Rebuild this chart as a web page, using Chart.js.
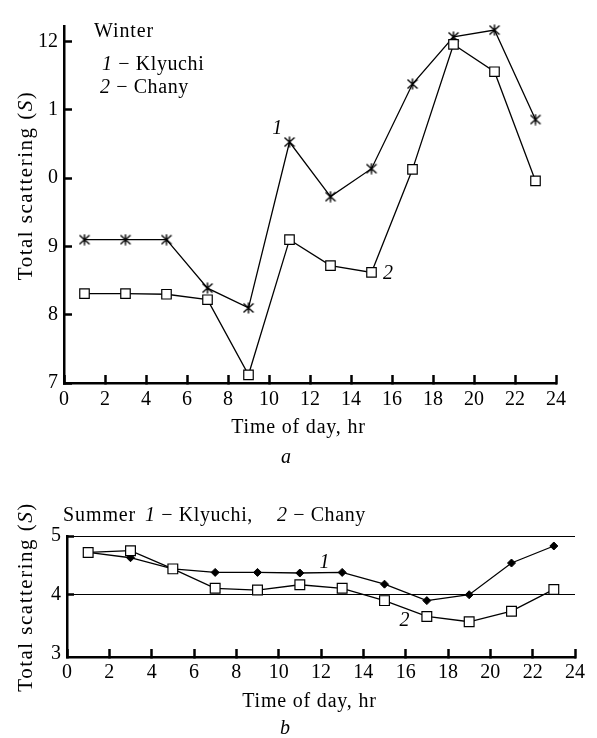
<!DOCTYPE html>
<html>
<head>
<meta charset="utf-8">
<script src="https://cdn.jsdelivr.net/npm/chart.js@4/dist/chart.umd.min.js"></script>
<style>
  body { margin: 0; background: #fff; }
  #wrap { position: relative; width: 597px; height: 738px; }
  #box1 { position: absolute; left: 0; top: 0; width: 597px; height: 480px; }
  #box2 { position: absolute; left: 0; top: 480px; width: 597px; height: 258px; }
</style>
</head>
<body>
<div id="wrap">
  <div id="box1"><canvas id="winter"></canvas></div>
  <div id="box2"><canvas id="summer"></canvas></div>
</div>
<script>
// data
const hours = [1, 3, 5, 7, 9, 11, 13, 15, 17, 19, 21, 23];
const winterKlyuchi = [9.1, 9.1, 9.1, 8.39, 8.1, 10.53, 9.73, 10.14, 11.38, 12.07, 12.17, 10.86];
const winterChany = [8.31, 8.31, 8.3, 8.22, 7.12, 9.1, 8.72, 8.62, 10.13, 11.96, 11.56, 9.96];
const summerKlyuchi = [4.72, 4.63, 4.44, 4.38, 4.38, 4.37, 4.38, 4.18, 3.9, 4.0, 4.54, 4.83];
const summerChany = [4.72, 4.75, 4.44, 4.11, 4.08, 4.17, 4.11, 3.9, 3.63, 3.54, 3.72, 4.09];
const xTicks = [0, 2, 4, 6, 8, 10, 12, 14, 16, 18, 20, 22, 24];
const winterYTicks = [7, 8, 9, 10, 11, 12];
const winterYLabels = ["7", "8", "9", "0", "1", "12"];
const summerYTicks = [3, 4, 5];
const summerYLabels = ["3", "4", "5"];

const FAMILY = '"Liberation Serif", "Times New Roman", serif';

function fnt(italic, size) {
  return (italic ? "italic " : "") + size + "px " + FAMILY;
}

// "ж"-like asterisk marker used for Klyuchi in winter
function asteriskMarker() {
  const c = document.createElement("canvas");
  c.width = 12;
  c.height = 12;
  const g = c.getContext("2d");
  g.strokeStyle = "#000";
  g.lineWidth = 1.4;
  g.beginPath();
  g.moveTo(1, 1.5); g.lineTo(11, 10.5);
  g.moveTo(11, 1.5); g.lineTo(1, 10.5);
  g.moveTo(6, 0.5); g.lineTo(6, 11.5);
  g.stroke();
  return c;
}

function drawRuns(ctx, runs, x, y, opts) {
  opts = opts || {};
  const size = opts.size || 20;
  ctx.save();
  ctx.letterSpacing = (opts.ls || 0) + "px";
  ctx.fillStyle = "#000";
  ctx.textAlign = "left";
  ctx.textBaseline = opts.baseline || "alphabetic";
  let total = 0;
  const widths = runs.map((r) => {
    ctx.font = fnt(r[1], size);
    const w = ctx.measureText(r[0]).width;
    total += w;
    return w;
  });
  let cx = opts.align === "center" ? x - total / 2 : x;
  runs.forEach((r, i) => {
    ctx.font = fnt(r[1], size);
    ctx.fillText(r[0], cx, y);
    cx += widths[i];
  });
  ctx.restore();
}

function drawVertical(ctx, runs, cx, cy, opts) {
  ctx.save();
  ctx.translate(cx, cy);
  ctx.rotate(-Math.PI / 2);
  drawRuns(ctx, runs, 0, 0, Object.assign({ align: "center", baseline: "middle" }, opts));
  ctx.restore();
}

function labelAt(chart, text, xv, yv) {
  const px = chart.scales.x.getPixelForValue(xv);
  const py = chart.scales.y.getPixelForValue(yv);
  drawRuns(chart.ctx, [[text, true]], px, py, { align: "center", baseline: "middle" });
}

function xScale(tickPad) {
  return {
    type: "linear",
    min: 0,
    max: 24,
    afterBuildTicks: (s) => { s.ticks = xTicks.map((v) => ({ value: v })); },
    afterFit: (s) => { s.height = 30; },
    border: { display: true, color: "#000", width: 2.5 },
    grid: { drawOnChartArea: false, drawTicks: true, tickLength: -8, tickWidth: 2.5, color: "#000" },
    ticks: { color: "#000", padding: tickPad, font: { family: FAMILY, size: 20 }, maxRotation: 0, autoSkip: false },
  };
}

const lineBase = { borderColor: "#000", borderWidth: 1.3, tension: 0, clip: false };

// a: winter
new Chart(document.getElementById("winter"), {
  type: "line",
  data: {
    datasets: [
      Object.assign({
        label: "2 - Chany",
        data: hours.map((h, i) => ({ x: h, y: winterChany[i] })),
        pointStyle: "rect",
        pointRadius: 6.7,
        pointBorderWidth: 1.2,
        pointBackgroundColor: "#fff",
        pointBorderColor: "#000",
      }, lineBase),
      Object.assign({
        label: "1 - Klyuchi",
        data: hours.map((h, i) => ({ x: h, y: winterKlyuchi[i] })),
        pointStyle: asteriskMarker(),
        pointRadius: 6,
      }, lineBase),
    ],
  },
  options: {
    responsive: true,
    maintainAspectRatio: false,
    animation: false,
    events: [],
    layout: { padding: { left: 0, top: 13, right: 41, bottom: 67 } },
    plugins: { legend: { display: false }, tooltip: { enabled: false } },
    scales: {
      x: xScale(13),
      y: {
        type: "linear",
        min: 7,
        max: 12.23,
        afterBuildTicks: (s) => { s.ticks = winterYTicks.map((v) => ({ value: v })); },
        afterFit: (s) => { s.width = 64; },
        border: { display: true, color: "#000", width: 2.5 },
        grid: { drawOnChartArea: false, drawTicks: true, tickLength: -8, tickWidth: 2.5, color: "#000" },
        ticks: {
          color: "#000",
          padding: 14,
          font: { family: FAMILY, size: 20 },
          callback: (v) => winterYLabels[winterYTicks.indexOf(v)],
        },
      },
    },
  },
  plugins: [{
    id: "texts",
    afterDraw(chart) {
      const ctx = chart.ctx;
      drawVertical(ctx, [["Total scattering (", false], ["S", true], [")", false]], 26, 185.5, { size: 21, ls: 1.5 });
      drawRuns(ctx, [["Time of day, hr", false]], 298.5, 433, { align: "center", ls: 0.8 });
      drawRuns(ctx, [["a", true]], 286, 463, { align: "center" });
      drawRuns(ctx, [["Winter", false]], 94, 37, { ls: 0.9 });
      drawRuns(ctx, [["1", true], [" − Klyuchi", false]], 102, 70, { ls: 0.6 });
      drawRuns(ctx, [["2", true], [" − Chany", false]], 100, 93, { ls: 0.6 });
      labelAt(chart, "1", 10.4, 10.73);
      labelAt(chart, "2", 15.8, 8.6);
    },
  }],
});

// b: summer
new Chart(document.getElementById("summer"), {
  type: "line",
  data: {
    datasets: [
      Object.assign({
        label: "2 - Chany",
        data: hours.map((h, i) => ({ x: h, y: summerChany[i] })),
        pointStyle: "rect",
        pointRadius: 6.9,
        pointBorderWidth: 1.2,
        pointBackgroundColor: "#fff",
        pointBorderColor: "#000",
      }, lineBase),
      Object.assign({
        label: "1 - Klyuchi",
        data: hours.map((h, i) => ({ x: h, y: summerKlyuchi[i] })),
        pointStyle: "rectRot",
        pointRadius: 4,
        pointBorderWidth: 1,
        pointBackgroundColor: "#000",
        pointBorderColor: "#000",
      }, lineBase),
    ],
  },
  options: {
    responsive: true,
    maintainAspectRatio: false,
    animation: false,
    events: [],
    layout: { padding: { left: 0, top: 56, right: 17, bottom: 51 } },
    plugins: { legend: { display: false }, tooltip: { enabled: false } },
    scales: {
      x: xScale(12),
      y: {
        type: "linear",
        min: 2.94,
        max: 5,
        afterBuildTicks: (s) => { s.ticks = summerYTicks.map((v) => ({ value: v })); },
        afterFit: (s) => { s.width = 67; },
        border: { display: true, color: "#000", width: 2.5 },
        grid: {
          drawOnChartArea: true,
          drawTicks: true,
          tickLength: -7,
          lineWidth: 1,
          tickWidth: 2.5,
          color: (c) => (c.tick && c.tick.value === 3 ? "rgba(0,0,0,0)" : "#000"),
        },
        ticks: {
          color: "#000",
          padding: 13,
          font: { family: FAMILY, size: 20 },
          callback: (v) => summerYLabels[summerYTicks.indexOf(v)],
        },
      },
    },
  },
  plugins: [{
    id: "texts",
    afterDraw(chart) {
      const ctx = chart.ctx;
      drawVertical(ctx, [["Total scattering (", false], ["S", true], [")", false]], 26, 117, { size: 21, ls: 1.5 });
      drawRuns(ctx, [["Time of day, hr", false]], 309.5, 227, { align: "center", ls: 0.8 });
      drawRuns(ctx, [["b", true]], 285, 254, { align: "center" });
      drawRuns(ctx, [["Summer", false]], 63, 41, { ls: 0.9 });
      drawRuns(ctx, [["1", true], [" − Klyuchi,", false]], 145, 41, { ls: 0.6 });
      drawRuns(ctx, [["2", true], [" − Chany", false]], 277, 41, { ls: 0.6 });
      labelAt(chart, "1", 12.16, 4.55);
      labelAt(chart, "2", 15.95, 3.55);
    },
  }],
});
</script>
</body>
</html>
